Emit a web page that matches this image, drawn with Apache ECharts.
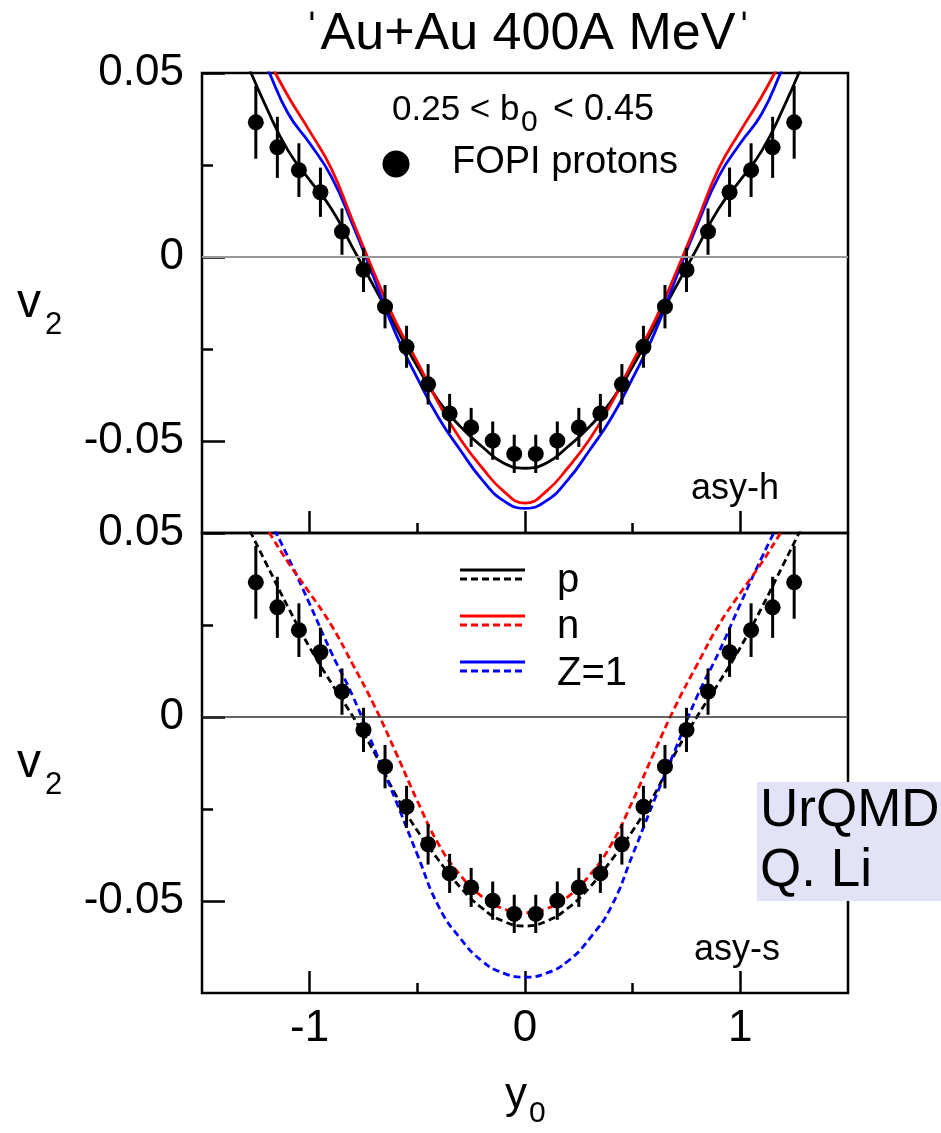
<!DOCTYPE html>
<html>
<head>
<meta charset="utf-8">
<script src="https://cdn.jsdelivr.net/npm/echarts@6/dist/echarts.min.js"></script>
<style>
  html, body { margin: 0; padding: 0; background: #fff; }
  #chart { width: 941px; height: 1133px; }
</style>
</head>
<body>
<div id="chart"></div>
<script>
const FONT = '"Liberation Sans", Arial, Helvetica, sans-serif';

// FOPI protons, 0.25 < b0 < 0.45: rapidity, elliptic flow and its error
const dataY0 = [-1.25, -1.15, -1.05, -0.95, -0.85, -0.75, -0.65, -0.55, -0.45, -0.35, -0.25, -0.15, -0.05,
                 0.05,  0.15,  0.25,  0.35,  0.45,  0.55,  0.65,  0.75,  0.85,  0.95,  1.05,  1.15,  1.25];
const dataV2 = [0.0366, 0.0298, 0.0236, 0.0176, 0.0069, -0.0035, -0.0135, -0.0244, -0.0346, -0.0425, -0.0463, -0.0499, -0.0535,
                -0.0535, -0.0499, -0.0463, -0.0425, -0.0346, -0.0244, -0.0135, -0.0035, 0.0069, 0.0176, 0.0236, 0.0298, 0.0366];
const dataErr = [0.0099, 0.0083, 0.0073, 0.0067, 0.0063, 0.0060, 0.0059, 0.0057, 0.0055, 0.0053, 0.0053, 0.0052, 0.0052,
                 0.0052, 0.0052, 0.0053, 0.0053, 0.0055, 0.0057, 0.0059, 0.0060, 0.0063, 0.0067, 0.0073, 0.0083, 0.0099];

// UrQMD rapidity grid for the model curves
const modelY0 = [-1.3, -1.2, -1.1, -1.0, -0.9, -0.8, -0.7, -0.6, -0.5, -0.4, -0.3, -0.2, -0.1, 0,
                  0.1,  0.2,  0.3,  0.4,  0.5,  0.6,  0.7,  0.8,  0.9,  1.0,  1.1,  1.2,  1.3];

// asy-h (stiff symmetry energy): protons, neutrons, Z=1
const pHard = [0.0540, 0.0405, 0.0289, 0.0209, 0.0132, 0.0025, -0.0082, -0.0190, -0.0298, -0.0392, -0.0461, -0.0515, -0.0560, -0.0574,
               -0.0560, -0.0515, -0.0461, -0.0392, -0.0298, -0.0190, -0.0082, 0.0025, 0.0132, 0.0209, 0.0289, 0.0405, 0.0540];
const nHard = [0.0650, 0.0544, 0.0437, 0.0342, 0.0241, 0.0098, -0.0044, -0.0177, -0.0285, -0.0399, -0.0495, -0.0572, -0.0636, -0.0669,
               -0.0636, -0.0572, -0.0495, -0.0399, -0.0285, -0.0177, -0.0044, 0.0098, 0.0241, 0.0342, 0.0437, 0.0544, 0.0650];
const zHard = [0.0640, 0.0517, 0.0390, 0.0309, 0.0219, 0.0087, -0.0059, -0.0209, -0.0329, -0.0438, -0.0525, -0.0605, -0.0662, -0.0683,
               -0.0662, -0.0605, -0.0525, -0.0438, -0.0329, -0.0209, -0.0059, 0.0087, 0.0219, 0.0309, 0.0390, 0.0517, 0.0640];

// asy-s (soft symmetry energy): protons, neutrons, Z=1
const pSoft = [0.0532, 0.0415, 0.0298, 0.0189, 0.0093, 0.0002, -0.0096, -0.0212, -0.0309, -0.0390, -0.0463, -0.0519, -0.0555, -0.0568,
               -0.0555, -0.0519, -0.0463, -0.0390, -0.0309, -0.0212, -0.0096, 0.0002, 0.0093, 0.0189, 0.0298, 0.0415, 0.0532];
const nSoft = [0.0603, 0.0512, 0.0420, 0.0337, 0.0250, 0.0143, 0.0031, -0.0096, -0.0228, -0.0347, -0.0430, -0.0488, -0.0521, -0.0532,
               -0.0521, -0.0488, -0.0430, -0.0347, -0.0228, -0.0096, 0.0031, 0.0143, 0.0250, 0.0337, 0.0420, 0.0512, 0.0603];
const zSoft = [0.0670, 0.0552, 0.0434, 0.0307, 0.0176, 0.0057, -0.0085, -0.0227, -0.0374, -0.0516, -0.0602, -0.0663, -0.0696, -0.0707,
               -0.0696, -0.0663, -0.0602, -0.0516, -0.0374, -0.0227, -0.0085, 0.0057, 0.0176, 0.0307, 0.0434, 0.0552, 0.0670];

// axis ticks and labels
const xMajor = [-1, 0, 1];
const xMinor = [-0.5, 0.5];
const yMajor = [-0.05, 0, 0.05];
const yMinor = [-0.025, 0.025];

const BLACK = '#000000', RED = '#ff0000', BLUE = '#0000ff';
const DASH = [7, 4];

const pairs = (xs, ys) => xs.map((x, i) => [x, ys[i]]);
const fmtY = v => (Math.abs(v) < 1e-9 ? '0' : v.toFixed(2));
const fmtX = v => String(Math.round(v));

function xAxes(gridIndex, withLabels) {
  return [
    {
      type: 'value', gridIndex, min: -1.5, max: 1.5, interval: 0.5, position: 'bottom',
      axisLine: { show: false, onZero: false },
      axisTick: { show: true, inside: true, length: 22, customValues: xMajor, lineStyle: { color: '#000', width: 2.5 } },
      axisLabel: withLabels
        ? { show: true, customValues: xMajor, formatter: fmtX, fontSize: 44, fontFamily: FONT, color: '#000', margin: 14 }
        : { show: false },
      splitLine: { show: false }
    },
    {
      type: 'value', gridIndex, min: -1.5, max: 1.5, interval: 0.5, position: 'bottom',
      axisLine: { show: false, onZero: false },
      axisTick: { show: true, inside: true, length: 10, customValues: xMinor, lineStyle: { color: '#000', width: 2.5 } },
      axisLabel: { show: false },
      splitLine: { show: false }
    }
  ];
}

function yAxes(gridIndex) {
  return [
    {
      type: 'value', gridIndex, min: -0.075, max: 0.05, interval: 0.025, position: 'left',
      axisLine: { show: false, onZero: false },
      axisTick: { show: true, inside: true, length: 23, customValues: yMajor, lineStyle: { color: '#000', width: 2.5 } },
      axisLabel: { show: true, customValues: yMajor, formatter: fmtY, fontSize: 44, fontFamily: FONT, color: '#000', margin: 18 },
      splitLine: { show: false }
    },
    {
      type: 'value', gridIndex, min: -0.075, max: 0.05, interval: 0.025, position: 'left',
      axisLine: { show: false, onZero: false },
      axisTick: { show: true, inside: true, length: 11, customValues: yMinor, lineStyle: { color: '#000', width: 2.5 } },
      axisLabel: { show: false },
      splitLine: { show: false }
    }
  ];
}

function curve(name, ys, color, dashed, xi, yi) {
  return {
    name, type: 'line', xAxisIndex: xi, yAxisIndex: yi,
    data: pairs(modelY0, ys), smooth: 0.5, showSymbol: false, clip: true, silent: true,
    lineStyle: { color, width: 2.8, type: dashed ? DASH : 'solid' },
    z: 3
  };
}

function zeroLine(xi, yi, color, width) {
  return {
    type: 'line', xAxisIndex: xi, yAxisIndex: yi, data: [], silent: true,
    markLine: {
      silent: true, symbol: 'none', label: { show: false },
      lineStyle: { color, width, type: 'solid' },
      data: [{ yAxis: 0 }]
    },
    z: 1
  };
}

function errorBars(xi, yi) {
  return {
    type: 'custom', xAxisIndex: xi, yAxisIndex: yi, silent: true, clip: true,
    data: dataY0.map((x, i) => [x, dataV2[i], dataErr[i]]),
    encode: { x: 0, y: 1 },
    renderItem(params, api) {
      const x = api.value(0), y = api.value(1), e = api.value(2);
      const lo = api.coord([x, y - e]);
      const hi = api.coord([x, y + e]);
      return { type: 'line', shape: { x1: lo[0], y1: lo[1], x2: hi[0], y2: hi[1] },
               style: { stroke: '#000', lineWidth: 3 } };
    },
    z: 4
  };
}

function points(xi, yi) {
  return {
    name: 'FOPI protons', type: 'scatter', xAxisIndex: xi, yAxisIndex: yi, silent: true,
    data: pairs(dataY0, dataV2), symbol: 'circle', symbolSize: 16,
    itemStyle: { color: '#000', opacity: 1 }, z: 5
  };
}

function txt(text, left, y, size, opts) {
  return Object.assign({
    type: 'text', x: left, y,
    style: { text, font: size + 'px ' + FONT, fill: '#000', textAlign: 'left', textVerticalAlign: 'middle' },
    z: 10
  }, opts || {});
}

function legendLine(y, color, dashed) {
  return { type: 'line', shape: { x1: 460, y1: y, x2: 525, y2: y },
           style: { stroke: color, lineWidth: 2.8, lineDash: dashed ? DASH : null }, z: 10 };
}

const option = {
  animation: false,
  backgroundColor: '#ffffff',
  grid: [
    { left: 202, top: 73, width: 646, height: 460, show: true, borderColor: '#000', borderWidth: 2.5, backgroundColor: 'transparent' },
    { left: 202, top: 533, width: 646, height: 460, show: true, borderColor: '#000', borderWidth: 2.5, backgroundColor: 'transparent' }
  ],
  xAxis: [...xAxes(0, false), ...xAxes(1, true)],
  yAxis: [...yAxes(0), ...yAxes(1)],
  series: [
    zeroLine(0, 0, '#999999', 2),
    curve('p', pHard, BLACK, false, 0, 0),
    curve('Z=1', zHard, BLUE, false, 0, 0),
    curve('n', nHard, RED, false, 0, 0),
    errorBars(0, 0),
    points(0, 0),

    zeroLine(2, 2, '#333333', 1.5),
    curve('p', pSoft, BLACK, true, 2, 2),
    curve('Z=1', zSoft, BLUE, true, 2, 2),
    curve('n', nSoft, RED, true, 2, 2),
    errorBars(2, 2),
    points(2, 2)
  ],
  graphic: [
    // title
    { type: 'text', x: 528, y: 35, z: 10,
      style: { text: 'ˈAu+Au 400A MeVˈ', font: '52px ' + FONT, fill: '#000', textAlign: 'center', textVerticalAlign: 'middle' } },

    // impact parameter window
    txt('0.25 < b', 392, 110, 35),
    txt('0', 521, 123, 30),
    txt('< 0.45', 553, 110, 36),

    // data legend
    { type: 'circle', shape: { cx: 396, cy: 164, r: 13.5 }, style: { fill: '#000' }, z: 10 },
    txt('FOPI protons', 452, 163, 38),

    // panel tags
    txt('asy-h', 691, 489, 36),
    txt('asy-s', 694, 950, 36),

    // model legend
    legendLine(570, BLACK, false), legendLine(579, BLACK, true),
    legendLine(616, RED, false), legendLine(625, RED, true),
    legendLine(662, BLUE, false), legendLine(671, BLUE, true),
    txt('p', 557, 581, 40),
    txt('n', 557, 627, 40),
    txt('Z=1', 557, 674, 40),

    // model tag
    { type: 'rect', shape: { x: 757, y: 782, width: 184, height: 119 }, style: { fill: '#e3e3f8' }, z: 9 },
    txt('UrQMD', 760, 811, 53),
    txt('Q. Li', 760, 871, 53),

    // axis titles
    txt('v', 17, 304, 48),
    txt('2', 45, 325, 31),
    txt('v', 17, 764, 48),
    txt('2', 45, 785, 31),
    txt('y', 505, 1096, 44),
    txt('0', 529, 1114, 30)
  ]
};

const chart = echarts.init(document.getElementById('chart'), null, { renderer: 'canvas' });
chart.setOption(option);
</script>
</body>
</html>
